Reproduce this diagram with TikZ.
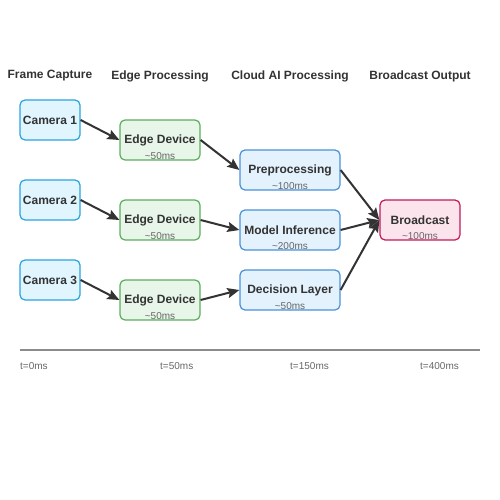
\documentclass[tikz,border=0pt]{standalone}
\usepackage{fontspec}
\setmainfont{Liberation Sans}
\usepackage{xcolor}
\usetikzlibrary{positioning, arrows.meta}

\definecolor{camfill}{HTML}{E1F5FE}
\definecolor{camdraw}{HTML}{29A3E0}
\definecolor{edgefill}{HTML}{E8F5E9}
\definecolor{edgedraw}{HTML}{5AAE5E}
\definecolor{cloudfill}{HTML}{E3F2FD}
\definecolor{clouddraw}{HTML}{4A90D9}
\definecolor{castfill}{HTML}{FCE4EC}
\definecolor{castdraw}{HTML}{C2185B}
\definecolor{ink}{HTML}{333333}

\begin{document}
\begin{tikzpicture}[x=1pt, y=-1pt,
    box/.style={draw, rounded corners=5pt, line width=1.2pt, align=center, text=ink,
      font=\fontsize{12}{14}\selectfont\bfseries, inner sep=0pt},
    cam/.style={box, fill=camfill, draw=camdraw, minimum width=60pt, minimum height=40pt},
    edgebox/.style={box, fill=edgefill, draw=edgedraw, minimum width=80pt, minimum height=40pt},
    cloud/.style={box, fill=cloudfill, draw=clouddraw, minimum width=100pt, minimum height=40pt},
    cast/.style={box, fill=castfill, draw=castdraw, minimum width=80pt, minimum height=40pt},
    delay/.style={text=black!60, font=\fontsize{10}{12}\selectfont, inner sep=0pt},
    head/.style={text=ink, font=\fontsize{12}{14}\selectfont\bfseries},
    tick/.style={text=black!60, font=\fontsize{10}{12}\selectfont, anchor=west, inner sep=0pt},
    flow/.style={-{Stealth[length=12pt, width=10pt, inset=2pt]}, line width=2pt, ink}]
  \useasboundingbox (0,0) rectangle (500,500);
  % column headings
  \node[head] (hcap) at (50,76) {Frame Capture};
  \node[head] (hedge) at (160,76) {Edge Processing};
  \node[head] (hcloud) at (290,76) {Cloud AI Processing};
  \node[head] (hcast) at (420,76) {Broadcast Output};
  % cameras
  \node[cam] (cam1) at (50,120) {Camera 1};
  \node[cam] (cam2) at (50,200) {Camera 2};
  \node[cam] (cam3) at (50,280) {Camera 3};
  % edge devices
  \node[edgebox] (edge1) at (160,140) {Edge Device};
  \node[edgebox] (edge2) at (160,220) {Edge Device};
  \node[edgebox] (edge3) at (160,300) {Edge Device};
  \foreach \i in {1,2,3}
    \node[delay] (edged\i) at ([yshift=-16pt]edge\i.center) {\textasciitilde 50ms};
  % cloud stages
  \node[cloud] (prep) at (290,170) {Preprocessing};
  \node[cloud] (infer) at (290,230) {Model Inference};
  \node[cloud] (decide) at (290,290) {Decision Layer};
  \node[delay] (prepd) at ([yshift=-16pt]prep.center) {\textasciitilde 100ms};
  \node[delay] (inferd) at ([yshift=-16pt]infer.center) {\textasciitilde 200ms};
  \node[delay] (decided) at ([yshift=-16pt]decide.center) {\textasciitilde 50ms};
  % output
  \node[cast] (cast) at (420,220) {Broadcast};
  \node[delay] (castd) at ([yshift=-16pt]cast.center) {\textasciitilde 100ms};
  % connectors
  \foreach \i in {1,2,3}
    \draw[flow] (cam\i.east) -- (edge\i.west);
  \draw[flow] (edge1.east) -- (prep.west);
  \draw[flow] (edge2.east) -- (infer.west);
  \draw[flow] (edge3.east) -- (decide.west);
  \draw[flow] (prep.east) -- (cast.west);
  \draw[flow] (infer.east) -- (cast.west);
  \draw[flow] (decide.east) -- (cast.west);
  % timeline
  \coordinate (tstart) at (20,350);
  \coordinate (tend) at (480,350);
  \draw[black!45, line width=2pt] (tstart) -- (tend);
  \node[tick] (t0) at (20,366) {t=0ms};
  \node[tick] (t1) at (160,366) {t=50ms};
  \node[tick] (t2) at (290,366) {t=150ms};
  \node[tick] (t3) at (420,366) {t=400ms};
\end{tikzpicture}
\end{document}
